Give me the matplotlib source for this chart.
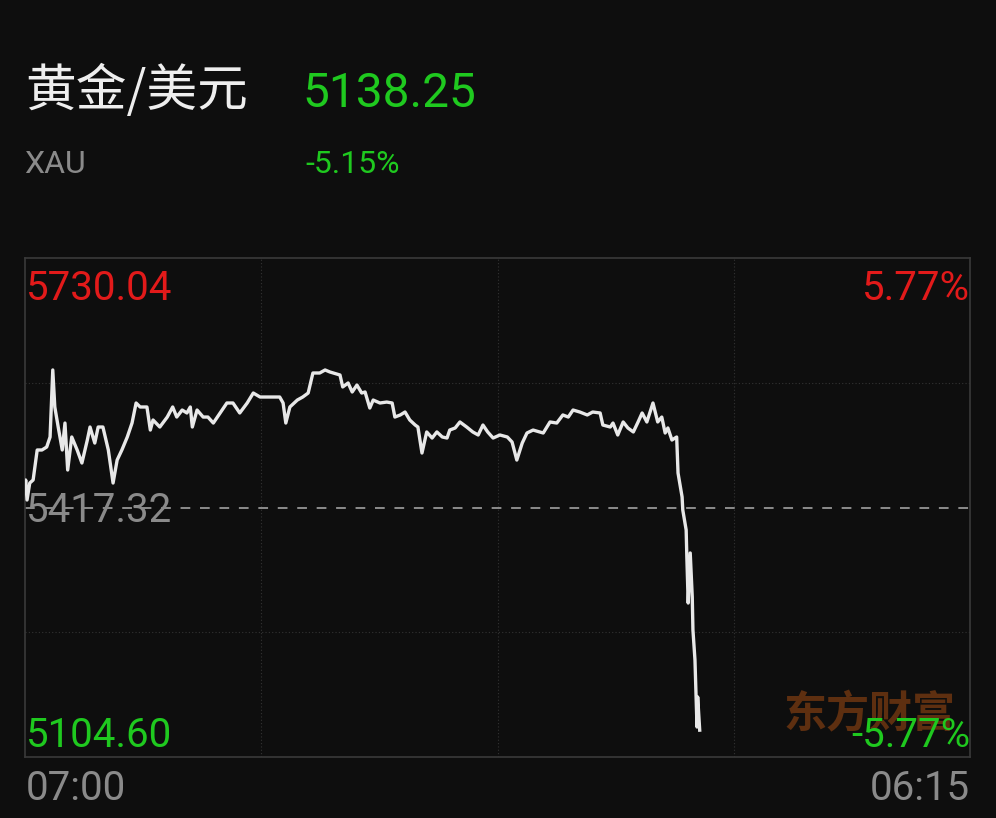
import numpy as np
import matplotlib
matplotlib.use('Agg')
import matplotlib.pyplot as plt

plt.rcParams['font.family'] = ['Noto Sans CJK SC', 'DejaVu Sans']
NUM_FONT = ['Roboto', 'DejaVu Sans']

# Данные: минуты от 07:00 и цена
minutes = [0, 1, 3, 7, 12, 18, 25, 32, 37, 41, 44, 49, 55, 59, 63, 69, 77, 84, 92, 96,
           103, 108, 115, 123, 130, 136, 143, 151, 158, 164, 170, 180, 185, 189, 199,
           210, 218, 224, 232, 239, 244, 247, 254, 263, 270, 278, 288, 298, 307, 317,
           328, 337, 347, 357, 376, 381, 385, 391, 402, 410, 418, 425, 435, 443,
           450, 465, 469, 477, 483, 490, 497, 502, 509, 514, 524, 534, 542, 546, 554,
           561, 568, 576, 580, 586, 593, 601, 608, 616, 623, 627, 635, 642, 652, 661,
           669, 676, 683, 691, 701, 712, 719, 726, 734, 741, 750, 760, 765, 775, 785,
           794, 802, 809, 819, 830, 838, 849, 853, 864, 868, 875, 883, 890, 898, 905,
           911, 918, 927, 934, 940, 945, 949, 955, 962,
           964, 970, 971, 976, 977, 979, 982, 985, 986, 989, 992, 993, 996]
prices = [5439.3, 5451.8, 5426.7, 5448.0, 5451.8, 5489.4, 5489.4, 5493.1, 5505.7, 5589.7,
          5543.3, 5518.2, 5489.4, 5523.2, 5464.3, 5505.7, 5489.4, 5473.1, 5501.9, 5518.2,
          5498.1, 5518.2, 5518.2, 5489.4, 5448.0, 5476.8, 5489.4, 5505.7, 5523.2, 5548.3,
          5543.3, 5543.3, 5514.4, 5527.0, 5518.2, 5530.7, 5543.3, 5530.7, 5539.5, 5535.8,
          5543.3, 5518.2, 5539.5, 5530.7, 5530.7, 5523.2, 5535.8, 5548.3, 5548.3, 5535.8,
          5548.3, 5560.8, 5555.8, 5555.8, 5555.8, 5548.3, 5523.2, 5543.3, 5552.0, 5555.8,
          5560.8, 5585.9, 5585.9, 5589.7,
          5587.2, 5583.4, 5568.4, 5573.4, 5562.1, 5570.8, 5560.8, 5562.1, 5542.0, 5552.0,
          5548.3, 5549.5, 5548.3, 5530.7, 5533.3, 5537.0, 5527.0, 5520.7, 5518.2, 5485.6,
          5512.0, 5504.4, 5512.0, 5505.7, 5504.4, 5514.4, 5517.0, 5524.5, 5518.2, 5512.0,
          5508.2, 5520.7, 5512.0, 5504.4, 5508.2, 5505.7, 5499.4, 5476.8, 5498.1, 5510.7,
          5514.4, 5512.0, 5510.7, 5524.5, 5523.2, 5533.3, 5530.7, 5539.5, 5537.0, 5533.3,
          5537.0, 5535.8, 5520.7, 5518.2, 5523.2, 5508.2, 5524.5, 5517.0, 5512.0, 5524.5,
          5535.8, 5524.5, 5548.3, 5524.5, 5530.7, 5510.7, 5517.0, 5501.9, 5505.7,
          5460.5, 5430.5, 5414.2, 5389.1, 5355.3, 5297.6, 5360.3, 5305.1, 5263.8, 5226.2,
          5142.2, 5179.8, 5138.25]

y_high = 5730.04
y_low = 5104.60
prev_close = 5417.32
last_price = '5138.25'
change_pct = '-5.15%'
high_pct = '5.77%'
low_pct = '-5.77%'
session_len = 1395  # 07:00 -> 06:15
time_labels = ['07:00', '06:15']

BG = '#0e0e0e'
GREEN = '#1fc91f'
RED = '#e21a1a'
GRAY = '#8a8a8a'

W, H = 996, 818
fig = plt.figure(figsize=(W / 100, H / 100), dpi=100, facecolor=BG)


def fx(px):
    return px / W


def fy(py):
    return 1 - py / H


# Шапка
fig.text(fx(25), fy(106), '黄金/美元', color='#eeeeee', fontsize=36.5, va='baseline')
fig.text(fx(302), fy(107), last_price, color=GREEN, fontsize=34.5, va='baseline',
         family=NUM_FONT)
fig.text(fx(24), fy(173), 'XAU', color=GRAY, fontsize=23, va='baseline', family=NUM_FONT)
fig.text(fx(305), fy(173), change_pct, color=GREEN, fontsize=23, va='baseline',
         family=NUM_FONT)

# Область графика
ax = fig.add_axes([fx(25), fy(757), fx(970) - fx(25), fy(258) - fy(757)])
ax.set_facecolor(BG)
ax.set_xlim(0, session_len)
ax.set_ylim(y_low, y_high)
for sp in ax.spines.values():
    sp.set_color('#3a3a3a')
    sp.set_linewidth(1.2)
ax.set_xticks([])
ax.set_yticks([])

for k in (1, 2, 3):
    ax.axvline(session_len * k / 4, color='#333333', linestyle=(0, (1, 2)), linewidth=0.8, zorder=1)
for k in (1, 3):
    ax.axhline(y_low + (y_high - y_low) * k / 4, color='#333333', linestyle=(0, (1, 2)),
               linewidth=0.8, zorder=1)
ax.axhline(prev_close, color='#8c8c8c', linestyle=(0, (5, 5)), linewidth=1.4, zorder=2)

# Водяной знак
ax.text(0.803, 0.085, '东方财富', transform=ax.transAxes, color='#5e2f10', fontsize=31,
        fontweight='bold', ha='left', va='center', zorder=1)

ax.plot(minutes, prices, color='#e8e8e8', linewidth=2.4, zorder=3)

# Подписи уровней
lbl = dict(fontsize=29, va='baseline', family=NUM_FONT)
fig.text(fx(26), fy(300), f'{y_high:.2f}', color=RED, **lbl)
fig.text(fx(970), fy(300), high_pct, color=RED, ha='right', **lbl)
fig.text(fx(26), fy(522), f'{prev_close:.2f}', color=GRAY, **lbl)
fig.text(fx(26), fy(747), f'{y_low:.2f}', color=GREEN, **lbl)
fig.text(fx(970), fy(747), low_pct, color=GREEN, ha='right', **lbl)
fig.text(fx(26), fy(800), time_labels[0], color=GRAY, **lbl)
fig.text(fx(970), fy(800), time_labels[1], color=GRAY, ha='right', **lbl)

fig.savefig('out.png', dpi=100, facecolor=BG)
